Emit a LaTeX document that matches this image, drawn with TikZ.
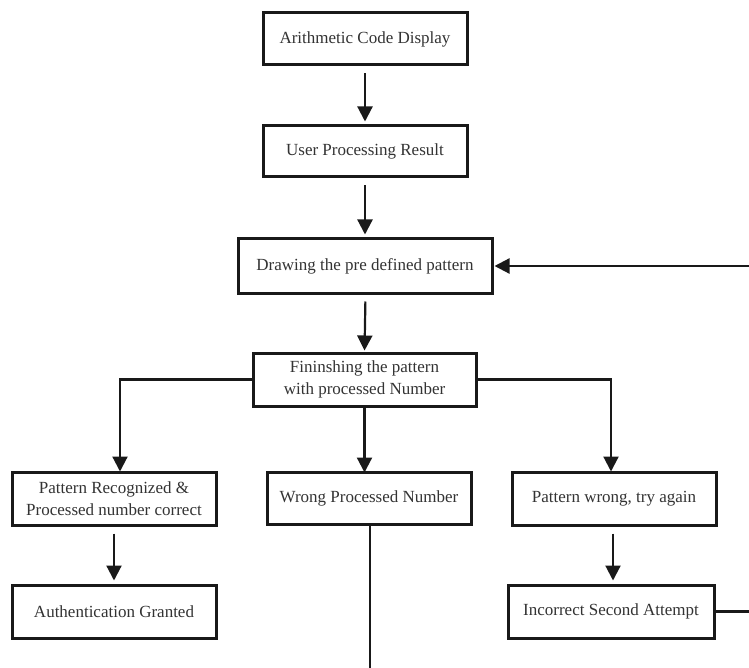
\documentclass[tikz,border=0pt]{standalone}
\usepackage{fontspec}
\setmainfont{Liberation Serif}
\usetikzlibrary{arrows.meta}
\begin{document}
\begin{tikzpicture}[x=1pt,y=-1pt,
  box/.style={draw=black!90, line width=3pt, fill=white, rectangle, inner sep=1pt,
    align=center, font=\fontsize{17}{21.5}\selectfont, text=black!80},
  arr/.style={line width=2.2pt, draw=black!90, -{Triangle[width=15pt,length=15pt]}},
  ln/.style={line width=2.2pt, draw=black!90}]
\useasboundingbox (0,0) rectangle (749,668);
\node[box, minimum width=204pt, minimum height=52pt] (b1) at (365,39) {Arithmetic Code Display};
\node[box, minimum width=204pt, minimum height=51pt] (b2) at (365,151.5) {User Processing Result};
\node[box, minimum width=254pt, minimum height=54pt] (b3) at (365,266) {Drawing the pre defined pattern};
\node[box, minimum width=223pt, minimum height=53pt] (b4) at (364.5,379.5) {Fininshing the pattern\\with processed Number};
\node[box, minimum width=204pt, minimum height=53pt] (b5) at (114,498.5) {Pattern Recognized \&\\Processed number correct};
\node[box, minimum width=204pt, minimum height=52pt] (b6) at (369,498) {Wrong Processed Number};
\node[box, minimum width=204pt, minimum height=53pt] (b7) at (614,498.5) {Pattern wrong, try again};
\node[box, minimum width=206pt, minimum height=53pt] (b8) at (611,611.5) {Incorrect Second Attempt};
\node[box, minimum width=204pt, minimum height=53pt] (b9) at (114,611.5) {Authentication Granted};
\coordinate (r1) at (749,266);
\coordinate (r2) at (749,611.5);
\coordinate (bt) at (370,668);
\draw[arr, shorten <=7pt, shorten >=3pt] (b1) -- (b2);
\draw[arr, shorten <=7pt, shorten >=3pt] (b2) -- (b3);
\draw[arr, shorten <=7pt, shorten >=3pt] ([xshift=0.5pt]b3.south) -- ([yshift=-2pt]b4.north);
\draw[arr, shorten >=1pt] (r1) -- (b3.east);
\draw[arr] (b4.south) -- ([yshift=-2pt]b4.south |- b6.north);
\draw[arr] (b4.west) -| ([xshift=6pt,yshift=-1pt]b5.north);
\draw[arr] (b4.east) -| ([xshift=-3pt,yshift=-1pt]b7.north);
\draw[arr, shorten <=7pt, shorten >=3pt] (b5.south) -- (b9.north);
\draw[arr, shorten <=7pt, shorten >=3pt] ([xshift=-1pt]b7.south) -- ([xshift=2pt]b8.north);
\draw[ln] (bt |- b6.south) -- (bt);
\draw[ln] (b8.east) -- (r2);
\end{tikzpicture}
\end{document}
